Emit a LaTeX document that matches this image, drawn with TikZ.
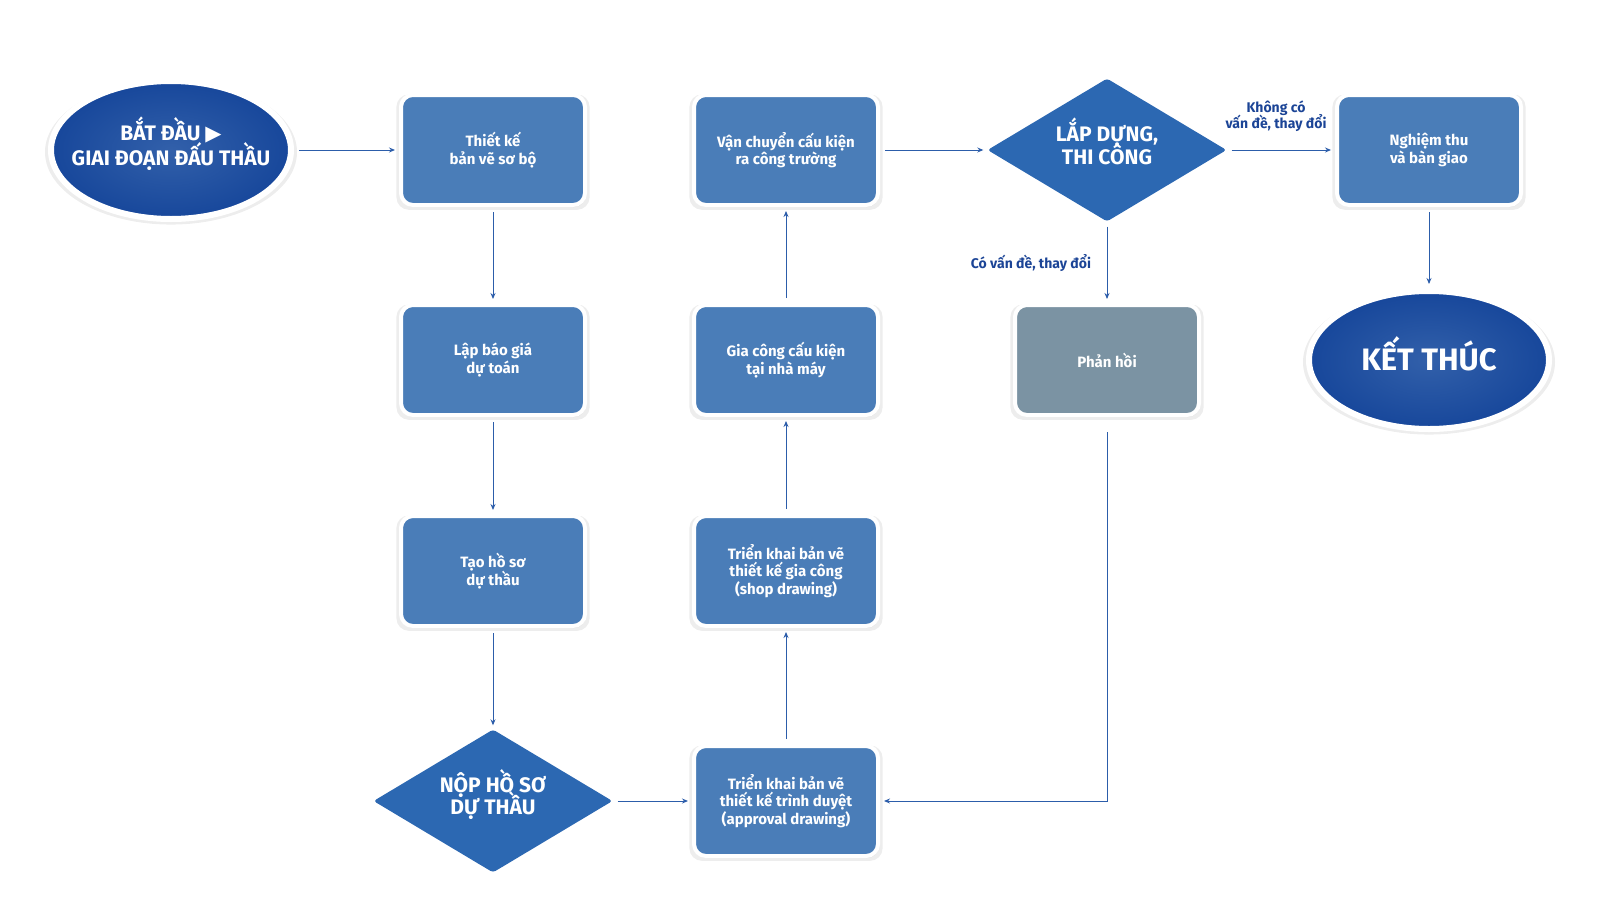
\documentclass[tikz,border=0pt]{standalone}
\usepackage{fontspec}
\setmainfont{Fira Sans}
\newfontfamily\symfont{DejaVu Sans}
\usetikzlibrary{shapes.geometric,shadows,arrows.meta}
\definecolor{boxblue}{HTML}{4A7DB8}
\definecolor{diablue}{HTML}{2C68B2}
\definecolor{lineblue}{HTML}{2C5DAA}
\definecolor{grayblue}{HTML}{7B93A3}
\definecolor{labelblue}{HTML}{1B4496}
\definecolor{ovalout}{HTML}{17479B}
\definecolor{ovalin}{HTML}{3260AA}
\newcommand{\fs}[2]{\fontsize{#1}{#2}\selectfont\lineskiplimit=-20pt\bfseries}

\begin{document}
\begin{tikzpicture}[x=1pt, y=-1pt,
    glow/.style={general shadow={fill=black, opacity=0.07, shadow scale=1.05, shadow yshift=-2pt},
        drop shadow={shadow xshift=1pt, shadow yshift=-2pt, opacity=0.15}},
    box/.style={draw=white, line width=4pt, fill=boxblue, rounded corners=12pt,
        minimum width=184pt, minimum height=110pt, text=white, align=center,
        font=\fs{15}{17.5}, glow},
    dia/.style={diamond, fill=diablue, rounded corners=3pt, aspect=1.67, inner sep=0pt,
        minimum width=239pt, minimum height=143pt, text=white, align=center, font=\fs{21}{22.5},
        text depth=18pt},
    oval/.style={ellipse, draw=white, line width=6pt, inner color=ovalin, outer color=ovalout,
        inner xsep=-18pt, inner ysep=0pt, minimum width=240pt, minimum height=138pt,
        text=white, align=center, glow},
    lbl/.style={text=labelblue, align=center, font=\fs{14}{16.5}},
    arr/.style={draw=lineblue, line width=0.9pt, -{Stealth[length=6pt, width=5pt]},
        shorten <=5pt, shorten >=4pt}]
    \useasboundingbox (0,0) rectangle (1600,910);

    \node (start) [oval, font=\fs{21}{24.5}, text depth=18pt] at (171,150) {BẮT ĐẦU {\symfont ▶}\\GIAI ĐOẠN ĐẤU THẦU};
    \node (sketch) [box] at (493,150) {Thiết kế\\bản vẽ sơ bộ};
    \node (quote) [box] at (493,360) {Lập báo giá\\dự toán};
    \node (bid) [box] at (493,571) {Tạo hồ sơ\\dự thầu};
    \node (submit) [dia] at (493,801) {NỘP HỒ SƠ\\DỰ THẦU};

    \node (approval) [box] at (786,801) {Triển khai bản vẽ\\thiết kế trình duyệt\\(approval drawing)};
    \node (shop) [box] at (786,571) {Triển khai bản vẽ\\thiết kế gia công\\(shop drawing)};
    \node (fab) [box] at (786,360) {Gia công cấu kiện\\tại nhà máy};
    \node (ship) [box] at (786,150) {Vận chuyển cấu kiện\\ra công trường};

    \node (build) [dia] at (1107,150) {LẮP DỰNG,\\THI CÔNG};
    \node (feedback) [box, fill=grayblue] at (1107,360) {Phản hồi};
    \node (accept) [box] at (1429,150) {Nghiệm thu\\và bàn giao};
    \node (finish) [oval, font=\fs{31}{34}, text depth=12pt] at (1429,360) {KẾT THÚC};

    \node (nochange) [lbl] at (1276,116) {Không có\\vấn đề, thay đổi};
    \node (change) [lbl] at (1031,263) {Có vấn đề, thay đổi};

    \draw[arr] (start) -- (sketch);
    \draw[arr] (sketch) -- (quote);
    \draw[arr] (quote) -- (bid);
    \draw[arr] (bid) -- (submit);
    \draw[arr] (submit) -- (approval);
    \draw[arr] (approval) -- (shop);
    \draw[arr] (shop) -- (fab);
    \draw[arr] (fab) -- (ship);
    \draw[arr] (ship) -- (build);
    \draw[arr] (build) -- (accept);
    \draw[arr] (build) -- (feedback);
    \draw[arr, shorten <=15pt] (feedback) |- (approval);
    \draw[arr] (accept) -- (finish);
\end{tikzpicture}
\end{document}
